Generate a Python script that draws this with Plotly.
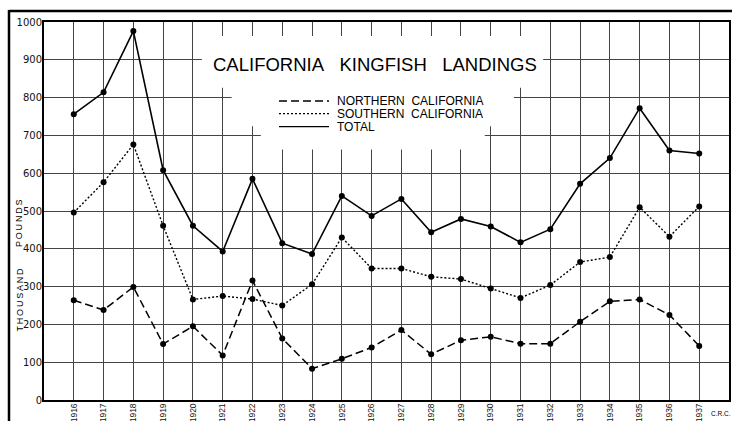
import plotly.graph_objects as go

years = list(range(1916, 1938))
northern = [264, 238, 299, 148, 195, 118, 316, 163, 83, 109, 139, 185, 121, 158, 167, 149, 149, 207, 261, 266, 225, 143]
southern = [496, 576, 676, 461, 266, 275, 267, 250, 306, 430, 348, 348, 326, 320, 295, 270, 304, 365, 378, 510, 432, 512]
total = [756, 814, 976, 608, 461, 393, 585, 415, 386, 540, 487, 532, 444, 479, 459, 417, 452, 572, 640, 772, 660, 652]
y_ticks = list(range(0, 1001, 100))

W, H = 732, 421
ML, MR, MT, MB = 44, 3, 22, 21
PW, PH = W - ML - MR, H - MT - MB


def px(x):
    return (x - ML) / PW


def py(y):
    return (H - MB - y) / PH


FONT = "Liberation Sans"
fig = go.Figure()

fig.add_trace(go.Scatter(x=years, y=northern, mode="lines+markers", name="NORTHERN CALIFORNIA",
                         line=dict(color="black", width=1.5, dash="8px,4px"),
                         marker=dict(color="black", size=6), showlegend=False))
fig.add_trace(go.Scatter(x=years, y=southern, mode="lines+markers", name="SOUTHERN CALIFORNIA",
                         line=dict(color="black", width=1.4, dash="2px,2px"),
                         marker=dict(color="black", size=6), showlegend=False))
fig.add_trace(go.Scatter(x=years, y=total, mode="lines+markers", name="TOTAL",
                         line=dict(color="black", width=1.6),
                         marker=dict(color="black", size=6), showlegend=False))

# white stepped panel hiding the grid behind title and legend
panel = ("M 1920.3 963 L 1931.76 963 L 1931.76 826 L 1930.78 826 L 1930.78 724 "
         "L 1929.8 724 L 1929.8 663 L 1922.28 663 L 1922.28 724 L 1921.3 724 "
         "L 1921.3 826 L 1920.3 826 Z")
shapes = [dict(type="path", path=panel, xref="x", yref="y", fillcolor="white",
               line=dict(width=0), layer="between")]

# outer frame
shapes.append(dict(type="line", xref="paper", yref="paper", x0=px(9), x1=px(740),
                   y0=py(11), y1=py(11), line=dict(color="black", width=2.5)))
shapes.append(dict(type="line", xref="paper", yref="paper", x0=px(9), x1=px(9),
                   y0=py(10), y1=py(430), line=dict(color="black", width=2.5)))

# legend samples
leg_rows = [(101, "8px,4px", "NORTHERN\u00a0\u00a0CALIFORNIA"),
            (113.7, "2px,2px", "SOUTHERN\u00a0\u00a0CALIFORNIA"),
            (126.7, "solid", "TOTAL")]
annotations = []
for yy, dash, label in leg_rows:
    shapes.append(dict(type="line", xref="paper", yref="paper", x0=px(279), x1=px(329),
                       y0=py(yy), y1=py(yy), line=dict(color="black", width=1.3, dash=dash)))
    annotations.append(dict(text=label, xref="paper", yref="paper", x=px(335), y=py(yy),
                            xanchor="left", yanchor="middle", showarrow=False,
                            font=dict(family=FONT, size=12, color="black")))

annotations.append(dict(text="CALIFORNIA\u00a0\u00a0\u00a0KINGFISH\u00a0\u00a0\u00a0LANDINGS",
                        xref="paper", yref="paper", x=px(374.5), y=py(64),
                        xanchor="center", yanchor="middle", showarrow=False,
                        font=dict(family=FONT, size=18.5, color="black")))


def spaced(s):
    return "\u2009".join(s)


annotations.append(dict(text=spaced("THOUSAND"), xref="paper", yref="paper", x=px(19.5), y=py(300),
                        textangle=-90, xanchor="center", yanchor="middle", showarrow=False,
                        font=dict(family=FONT, size=9, color="black")))
annotations.append(dict(text=spaced("POUNDS"), xref="paper", yref="paper", x=px(19.5), y=py(223.5),
                        textangle=-90, xanchor="center", yanchor="middle", showarrow=False,
                        font=dict(family=FONT, size=9, color="black")))
annotations.append(dict(text="C.R.C.", xref="paper", yref="paper", x=px(721), y=py(413),
                        xanchor="center", yanchor="middle", showarrow=False,
                        font=dict(family=FONT, size=6.5, color="black")))

fig.update_layout(
    width=W, height=H,
    margin=dict(l=ML, r=MR, t=MT, b=MB, pad=0, autoexpand=False),
    paper_bgcolor="white", plot_bgcolor="white",
    shapes=shapes, annotations=annotations, showlegend=False,
    xaxis=dict(range=[1915, 1938], tickvals=years, ticktext=[str(y) for y in years],
               tickangle=-90, showgrid=True, gridcolor="#444", gridwidth=1,
               showline=True, linecolor="black", linewidth=2, mirror=True,
               zeroline=False, ticks="", ticklen=0, automargin=False,
               ticklabelstandoff=-2,
               tickfont=dict(family=FONT, size=8.5, color="#111")),
    yaxis=dict(range=[0, 1000], tickvals=y_ticks, ticktext=[str(v) for v in y_ticks],
               showgrid=True, gridcolor="#444", gridwidth=1,
               showline=True, linecolor="black", linewidth=2, mirror=True,
               zeroline=False, ticks="", ticklen=0, automargin=False,
               ticklabelstandoff=-2,
               tickfont=dict(family="DejaVu Sans", size=10, color="#111")),
)

fig.write_html("out.html", config={"displayModeBar": False},
               post_script="document.body.style.margin='0';document.body.style.overflow='hidden';")
